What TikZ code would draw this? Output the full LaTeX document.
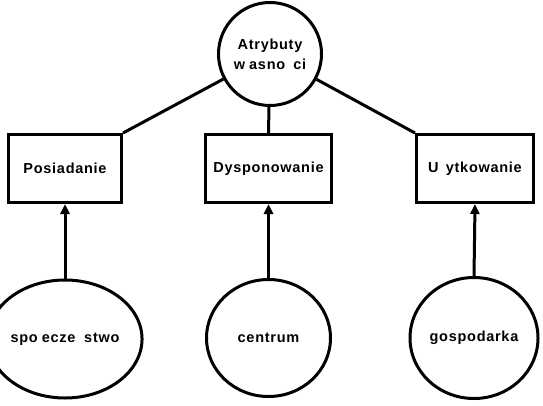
\documentclass[tikz,border=0pt]{standalone}
\usepackage{fontspec}
\setmainfont{Liberation Sans}[LetterSpace=5]
\usetikzlibrary{shapes.geometric,arrows.meta}
\begin{document}
\begin{tikzpicture}[x=1pt,y=-1pt,
  lw/.style={line width=3pt},
  boxnode/.style={draw,lw,rectangle,inner sep=0pt,font=\fontsize{14.5}{20}\selectfont\bfseries},
  circnode/.style={draw,lw,ellipse,inner sep=0pt,align=center,font=\fontsize{14.5}{20}\selectfont\bfseries},
  conn/.style={lw},
  arr/.style={lw,-{Triangle[width=9pt,length=10pt]}}]
\useasboundingbox (0,0) rectangle (543,405);
\node[circnode,minimum width=103pt,minimum height=103pt] (top) at (270,54) {Atrybuty\\w\hspace{0.278em}asno\hspace{0.556em}ci};
\node[boxnode,minimum width=113pt,minimum height=68pt] (b1) at (65,168.5) {Posiadanie};
\node[boxnode,minimum width=126pt,minimum height=68pt] (b2) at (268.5,168.5) {Dysponowanie};
\node[boxnode,minimum width=117pt,minimum height=68pt] (b3) at (475,168.5) {U\hspace{0.5em}ytkowanie};
\node[circnode,minimum width=123pt,minimum height=118pt] (c1) at (65,339) {spo\hspace{0.278em}ecze\hspace{0.611em}stwo};
\node[circnode,minimum width=124pt,minimum height=117pt] (c2) at (268.5,338) {centrum};
\node[circnode,minimum width=128pt,minimum height=121pt] (c3) at (474,338) {gospodarka};
\draw[conn] (top) -- (b1.north east);
\draw[conn] (top) -- (b2.north);
\draw[conn] (top) -- (b3.north west);
\draw[arr] (c1.north) -- (b1.south);
\draw[arr] (c2.north) -- (b2.south);
\draw[arr] (c3.north) -- (b3.south);
\end{tikzpicture}
\end{document}
